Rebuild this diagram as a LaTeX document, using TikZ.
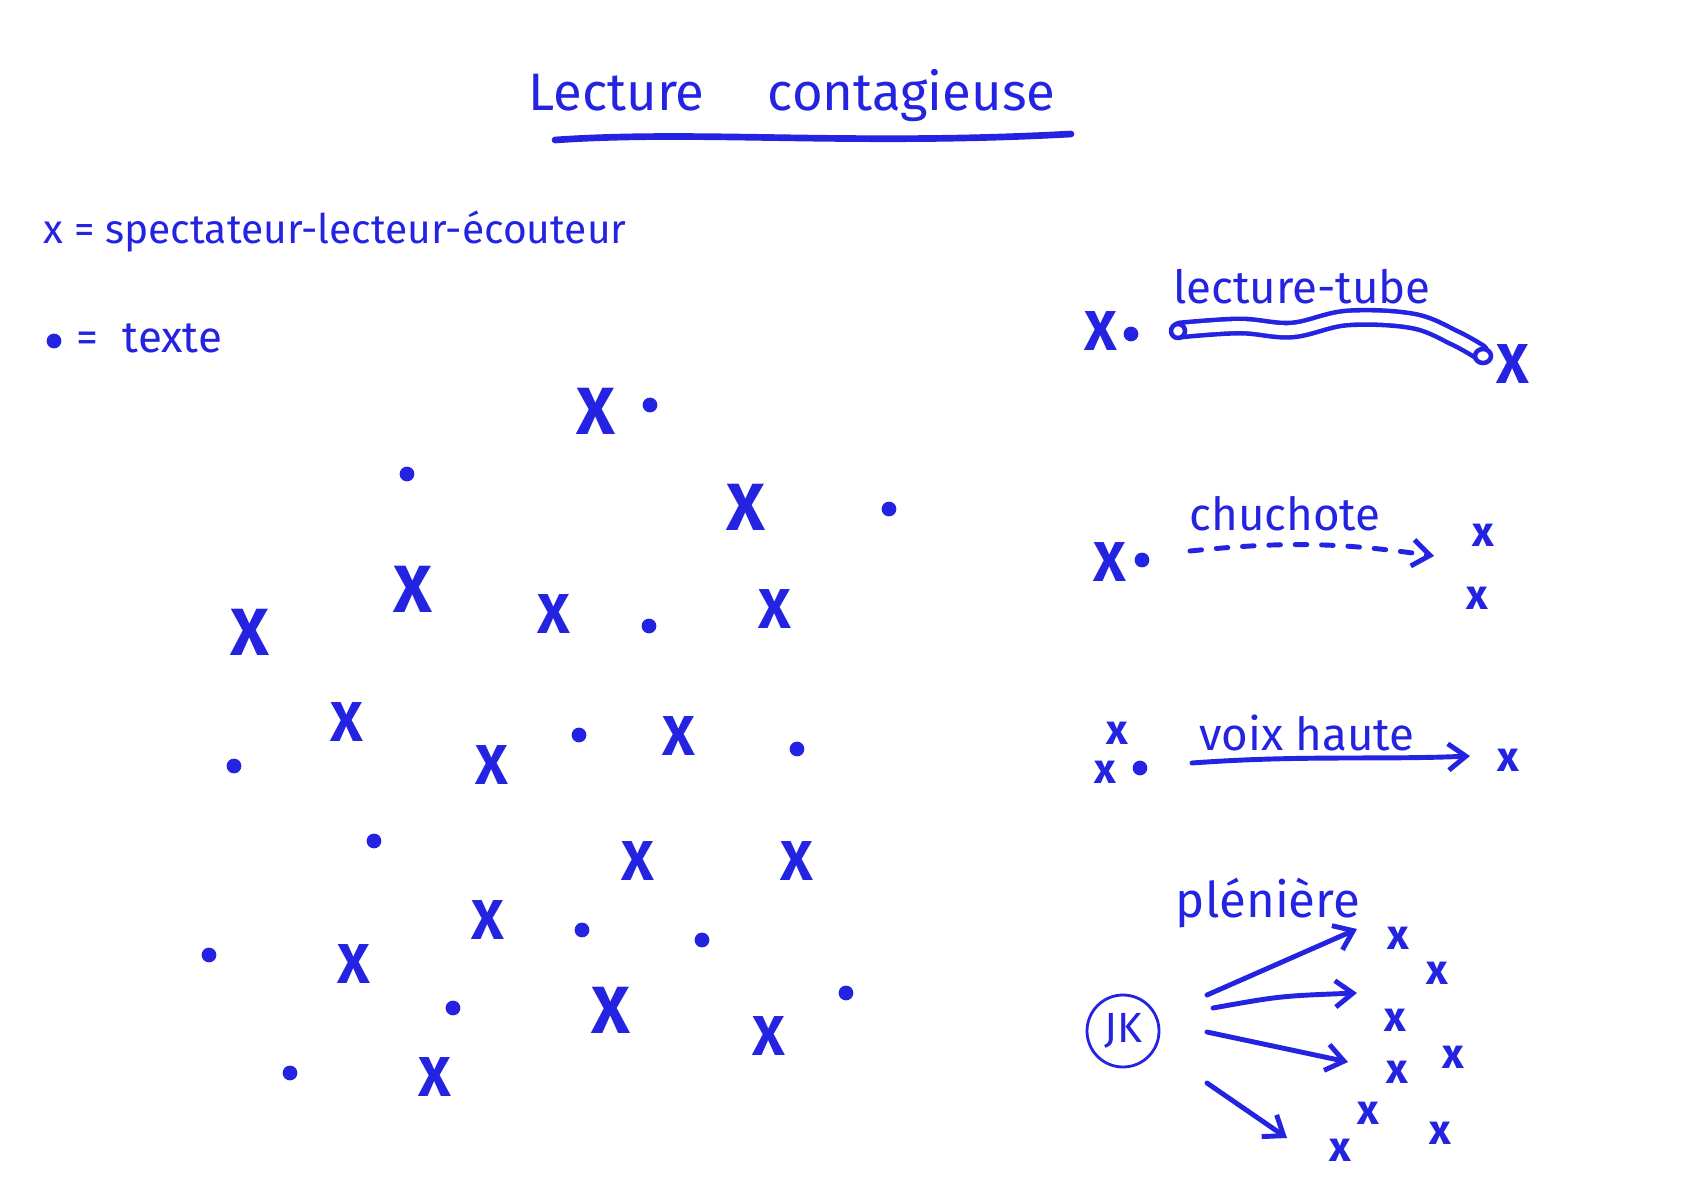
\documentclass[tikz,border=0pt]{standalone}
\usepackage{fontspec}
\setmainfont{Fira Sans}
\usetikzlibrary{arrows.meta}
\definecolor{pen}{RGB}{35,35,225}
\tikzset{
  pen/.style={draw=pen, line width=1.4pt, line cap=round, line join=round},
  bigx/.style={text=pen, inner sep=0pt, font=\fontsize{19}{19}\selectfont\bfseries},
  midx/.style={text=pen, inner sep=0pt, font=\fontsize{16}{16}\selectfont\bfseries},
  smallx/.style={text=pen, inner sep=0pt, font=\fontsize{12}{12}\selectfont\bfseries},
  txtdot/.style={circle, fill=pen, inner sep=0pt, minimum size=4.2pt},
  lbl/.style={text=pen, inner sep=0pt, font=\fontsize{13}{13}\selectfont},
  barb/.style={-{Straight Barb[length=5pt,width=7.5pt,line width=1.4pt]}},
}
\begin{document}
\begin{tikzpicture}[x=0.1mm,y=-0.1mm]
\useasboundingbox (0,0) rectangle (1684,1191);
\fill[white] (0,0) rectangle (1684,1191);

% title
\node[text=pen, inner sep=0pt, font=\fontsize{15}{15}\selectfont] (title) at (792,96) {Lecture\hspace{1.2em}contagieuse};
\coordinate (ulA) at (555,140);
\coordinate (ulB) at (1071,134);
\draw[pen, line width=1.9pt] (ulA) .. controls (700,130) and (850,146) .. (ulB);

% legend
\node[lbl, anchor=west, font=\fontsize{11.6}{12}\selectfont] (leg1) at (43,232) {x = spectateur-lecteur-écouteur};
\node[txtdot] (legdot) at (54,341) {};
\node[lbl, anchor=west, font=\fontsize{12.5}{13}\selectfont] (leg2) at (76,338) {=\hspace{0.55em}texte};

% scattered spectators
\foreach \n/\p/\s in {a1/{(596,411)}/bigx, a4/{(746,507)}/bigx, a6/{(413,589)}/bigx,
  a7/{(250,632)}/bigx, a8/{(554,614)}/midx, a10/{(775,609)}/midx, a11/{(347,722)}/midx,
  a13/{(492,765)}/midx, a15/{(679,736)}/midx, a18/{(638,861)}/midx, a19/{(797,861)}/midx,
  a20/{(488,920)}/midx, a24/{(354,964)}/midx, a26/{(611,1010)}/bigx, a27/{(769,1036)}/midx,
  a30/{(435,1077)}/midx}
  \node[\s] (\n) at \p {X};

% scattered texts
\foreach \n/\p in {d2/{(650,405)}, d3/{(407,474)}, d5/{(889,509)}, d9/{(649,626)},
  d12/{(234,766)}, d14/{(579,735)}, d16/{(797,749)}, d17/{(374,841)}, d21/{(582,930)},
  d22/{(702,940)}, d23/{(209,955)}, d25/{(453,1008)}, d28/{(846,993)}, d29/{(290,1073)}}
  \node[txtdot] (\n) at \p {};

% lecture-tube
\node[lbl] (tubelbl) at (1302,287) {lecture-tube};
\node[midx] (tx1) at (1101,331) {X};
\node[txtdot] (td1) at (1131,334) {};
\node[midx] (tx2) at (1513,364) {X};
\draw[pen, line width=1.3pt, double=white, double distance=2.8pt]
  plot[smooth, tension=0.6] coordinates {(1180,330) (1240,326) (1292,330) (1347,318) (1413,321) (1455,338) (1480,352)};
\draw[pen, line width=1.3pt, fill=white] (1178,331) ellipse [x radius=7, y radius=7];
\draw[pen, line width=1.3pt, fill=white] (1483,356) ellipse [x radius=8, y radius=7];

% chuchote
\node[lbl] (chulbl) at (1285,514) {chuchote};
\node[midx] (cx1) at (1110,562) {X};
\node[txtdot] (cd1) at (1142,560) {};
\node[smallx] (cx2) at (1483,535) {x};
\node[smallx] (cx3) at (1477,598) {x};
\coordinate (cA) at (1190,551);
\coordinate (cB) at (1434,556);
\draw[pen, barb, dash pattern=on 3.3pt off 4.2pt] (cA) to[bend left=7] (cB);

% voix haute
\node[lbl] (vlbl) at (1307,733) {voix haute};
\node[smallx] (vx1) at (1117,733) {x};
\node[smallx] (vx2) at (1105,772) {x};
\node[txtdot] (vd1) at (1140,768) {};
\node[smallx] (vx3) at (1508,760) {x};
\coordinate (vA) at (1192,763);
\coordinate (vB) at (1470,756);
\draw[pen, barb] (vA) .. controls (1300,755) and (1380,760) .. (vB);

% pleniere
\node[lbl, font=\fontsize{14}{14}\selectfont] (plbl) at (1268,903) {plénière};
\node[draw=pen, line width=0.8pt, circle, minimum size=7.2mm, inner sep=0pt, text=pen,
  font=\fontsize{12}{12}\selectfont] (jk) at (1123,1031) {JK};
\coordinate (p1a) at (1207,995);  \coordinate (p1b) at (1357,929);
\coordinate (p2a) at (1213,1008); \coordinate (p2b) at (1357,993);
\coordinate (p3a) at (1207,1032); \coordinate (p3b) at (1348,1062);
\coordinate (p4a) at (1207,1083); \coordinate (p4b) at (1287,1138);
\draw[pen, barb] (p1a) -- (p1b);
\draw[pen, barb] (p2a) .. controls (1280,996) .. (p2b);
\draw[pen, barb] (p3a) -- (p3b);
\draw[pen, barb] (p4a) -- (p4b);
\foreach \n/\p in {px1/{(1398,938)}, px2/{(1437,973)}, px3/{(1395,1020)}, px4/{(1453,1057)},
  px5/{(1397,1072)}, px6/{(1368,1113)}, px7/{(1440,1133)}, px8/{(1340,1150)}}
  \node[smallx] (\n) at \p {x};
\end{tikzpicture}
\end{document}
